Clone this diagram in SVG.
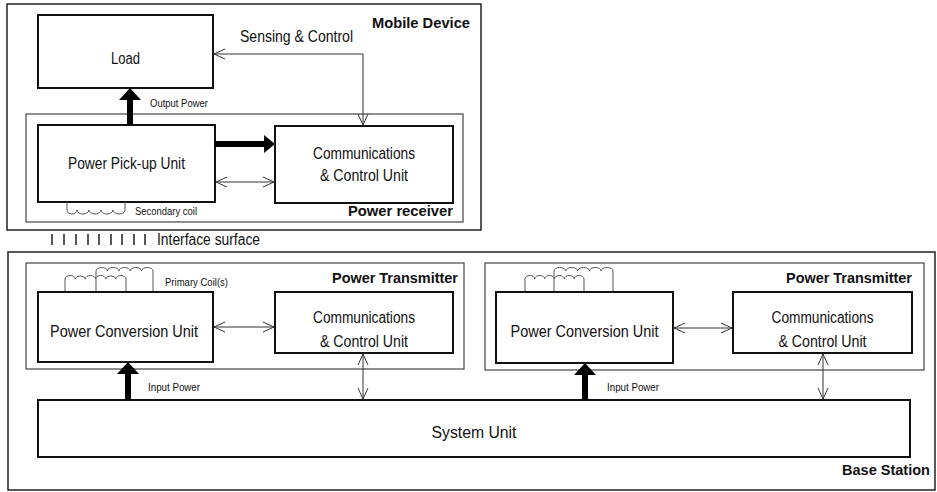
<svg xmlns="http://www.w3.org/2000/svg" width="937" height="492" viewBox="0 0 937 492">
  <style>
    text { font-family: "Liberation Sans", Arial, sans-serif; fill: #111; }
    .lbl { font-size: 16px; }
    .hdr { font-size: 15.5px; font-weight: bold; }
    .sm { font-size: 11px; }
    .outer { fill: none; stroke: #222; stroke-width: 1.5; }
    .group { fill: none; stroke: #444; stroke-width: 1.2; }
    .unit { fill: #fff; stroke: #111; stroke-width: 2; }
    .thin { fill: none; stroke: #333; stroke-width: 1; }
    .tick { fill: none; stroke: #111; stroke-width: 1.4; }
    .coil { fill: none; stroke: #555; stroke-width: 1; }
    .power { fill: #000; stroke: none; }
  </style>
  <defs>
    <marker id="open" viewBox="0 0 12 12" refX="11" refY="6" markerWidth="12" markerHeight="12" markerUnits="userSpaceOnUse" orient="auto-start-reverse">
      <path d="M0,1 L11,6 L0,11" fill="none" stroke="#333" stroke-width="1"/>
    </marker>
  </defs>

  <rect width="937" height="492" fill="#fff"/>

  <!-- Mobile device enclosure -->
  <g id="mobile-device">
    <rect class="outer" x="7" y="4" width="474" height="226"/>
    <text class="hdr" x="470" y="28" text-anchor="end" textLength="98" lengthAdjust="spacingAndGlyphs">Mobile Device</text>
  </g>

  <g id="power-receiver">
    <rect class="group" x="26" y="114" width="437" height="108"/>
    <text class="hdr" x="453" y="216" text-anchor="end" textLength="105" lengthAdjust="spacingAndGlyphs">Power receiver</text>
  </g>

  <g id="load">
    <rect class="unit" x="38" y="15" width="175" height="73"/>
    <text class="lbl" x="125.5" y="64" text-anchor="middle" textLength="29" lengthAdjust="spacingAndGlyphs">Load</text>
  </g>

  <g id="pickup-unit">
    <rect class="unit" x="38" y="125" width="177" height="77"/>
    <text class="lbl" x="126.5" y="169" text-anchor="middle" textLength="117" lengthAdjust="spacingAndGlyphs">Power Pick-up Unit</text>
    <path class="coil" d="M67,202 V210 A5,4 0 0 0 77,210 A6,4 0 0 0 89,210 A6,4 0 0 0 101,210 A6,4 0 0 0 113,210 A6,4 0 0 0 125,210 V202"/>
    <text class="sm" x="135" y="215" textLength="62" lengthAdjust="spacingAndGlyphs">Secondary coil</text>
  </g>

  <g id="rx-comm-unit">
    <rect class="unit" x="275" y="126" width="178" height="77"/>
    <text class="lbl" x="364" y="159" text-anchor="middle" textLength="102" lengthAdjust="spacingAndGlyphs">Communications</text>
    <text class="lbl" x="364" y="181" text-anchor="middle" textLength="88" lengthAdjust="spacingAndGlyphs">&amp; Control Unit</text>
  </g>

  <!-- Interface surface -->
  <g id="interface-surface">
    <path class="tick" d="M52,234 V245 M64,234 V245 M76,234 V245 M88,234 V245 M99,234 V245 M111,234 V245 M122,234 V245 M134,234 V245 M145,234 V245"/>
    <text class="lbl" x="157" y="245" textLength="103" lengthAdjust="spacingAndGlyphs">Interface surface</text>
  </g>

  <!-- Base station enclosure -->
  <g id="base-station">
    <rect class="outer" x="8" y="252" width="927" height="238"/>
    <text class="hdr" x="930" y="475" text-anchor="end" textLength="88" lengthAdjust="spacingAndGlyphs">Base Station</text>
  </g>

  <g id="transmitter-1">
    <rect class="group" x="26" y="263" width="438" height="106"/>
    <text class="hdr" x="458" y="283" text-anchor="end" textLength="126" lengthAdjust="spacingAndGlyphs">Power Transmitter</text>
  </g>

  <g id="conversion-unit-1">
    <path class="coil" d="M96,292 V271 A5.7,3.5 0 0 1 107.4,271 A5.7,3.5 0 0 1 118.8,271 A5.7,3.5 0 0 1 130.2,271 A5.7,3.5 0 0 1 141.6,271 A5.7,3.5 0 0 1 153,271 V292"/>
    <path class="coil" d="M65,292 V279 A5.1,3.5 0 0 1 75.2,279 A5.1,3.5 0 0 1 85.3,279 A5.1,3.5 0 0 1 95.5,279 A5.1,3.5 0 0 1 105.7,279 A5.1,3.5 0 0 1 115.8,279 A5.1,3.5 0 0 1 126,279 V292"/>
    <rect class="unit" x="38" y="292" width="175" height="70"/>
    <text class="lbl" x="124" y="337" text-anchor="middle" textLength="148" lengthAdjust="spacingAndGlyphs">Power Conversion Unit</text>
    <text class="sm" x="165" y="286" textLength="63" lengthAdjust="spacingAndGlyphs">Primary Coil(s)</text>
  </g>

  <g id="tx-comm-unit-1">
    <rect class="unit" x="275" y="292" width="178" height="61"/>
    <text class="lbl" x="364" y="323" text-anchor="middle" textLength="102" lengthAdjust="spacingAndGlyphs">Communications</text>
    <text class="lbl" x="364" y="347" text-anchor="middle" textLength="88" lengthAdjust="spacingAndGlyphs">&amp; Control Unit</text>
  </g>

  <g id="transmitter-2">
    <rect class="group" x="485" y="263" width="439" height="107"/>
    <text class="hdr" x="912" y="283" text-anchor="end" textLength="126" lengthAdjust="spacingAndGlyphs">Power Transmitter</text>
  </g>

  <g id="conversion-unit-2">
    <path class="coil" d="M554,292 V271 A5.9,3.5 0 0 1 565.8,271 A5.9,3.5 0 0 1 577.6,271 A5.9,3.5 0 0 1 589.4,271 A5.9,3.5 0 0 1 601.2,271 A5.9,3.5 0 0 1 613,271 V292"/>
    <path class="coil" d="M525,292 V279 A4.9,3.5 0 0 1 534.8,279 A4.9,3.5 0 0 1 544.7,279 A4.9,3.5 0 0 1 554.5,279 A4.9,3.5 0 0 1 564.3,279 A4.9,3.5 0 0 1 574.2,279 A4.9,3.5 0 0 1 584,279 V292"/>
    <rect class="unit" x="496" y="292" width="177" height="71"/>
    <text class="lbl" x="584.5" y="337" text-anchor="middle" textLength="148" lengthAdjust="spacingAndGlyphs">Power Conversion Unit</text>
  </g>

  <g id="tx-comm-unit-2">
    <rect class="unit" x="733" y="292" width="179" height="61"/>
    <text class="lbl" x="822.5" y="323" text-anchor="middle" textLength="102" lengthAdjust="spacingAndGlyphs">Communications</text>
    <text class="lbl" x="822.5" y="347" text-anchor="middle" textLength="88" lengthAdjust="spacingAndGlyphs">&amp; Control Unit</text>
  </g>

  <g id="system-unit">
    <rect class="unit" x="38" y="400" width="872" height="57"/>
    <text class="lbl" x="474" y="438" text-anchor="middle" textLength="85" lengthAdjust="spacingAndGlyphs">System Unit</text>
  </g>

  <!-- Connectors -->
  <g id="connectors">
    <!-- power flow -->
    <path class="power" d="M127,125 V100 H119 L130,88 L141,100 H133 V125 Z"/>
    <path class="power" d="M215,141 H264 V135 L275,144 L264,153 V147 H215 Z"/>
    <path class="power" d="M125,400 V374 H117 L128,362 L139,374 H131 V400 Z"/>
    <path class="power" d="M582,400 V375 H574 L585,363 L596,375 H588 V400 Z"/>
    <!-- signalling -->
    <path class="thin" d="M214,54 H363 V125" marker-start="url(#open)" marker-end="url(#open)"/>
    <path class="thin" d="M216,182 H274" marker-start="url(#open)" marker-end="url(#open)"/>
    <path class="thin" d="M214,327 H274" marker-start="url(#open)" marker-end="url(#open)"/>
    <path class="thin" d="M674,328 H732" marker-start="url(#open)" marker-end="url(#open)"/>
    <path class="thin" d="M363,354 V399" marker-start="url(#open)" marker-end="url(#open)"/>
    <path class="thin" d="M823,354 V399" marker-start="url(#open)" marker-end="url(#open)"/>
    <text class="lbl" x="240" y="42" textLength="113" lengthAdjust="spacingAndGlyphs">Sensing &amp; Control</text>
    <text class="sm" x="150" y="107" textLength="58" lengthAdjust="spacingAndGlyphs">Output Power</text>
    <text class="sm" x="148" y="391" textLength="52" lengthAdjust="spacingAndGlyphs">Input Power</text>
    <text class="sm" x="607" y="391" textLength="52" lengthAdjust="spacingAndGlyphs">Input Power</text>
  </g>
</svg>
